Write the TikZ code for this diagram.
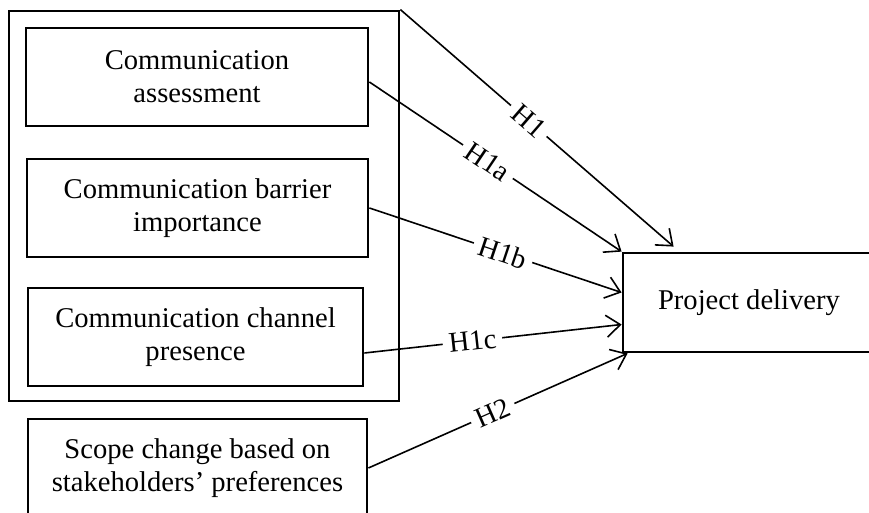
\documentclass[tikz,border=0pt]{standalone}
\usepackage{fontspec}
\setmainfont{Liberation Serif}
\usetikzlibrary{calc,arrows.meta}
\tikzset{
    varbox/.style={draw, line width=1.4pt, align=center, inner sep=0pt},
    hyp/.style={line width=0.8pt, -{Straight Barb[length=7pt,width=11pt,line width=0.8pt]}},
    hyplabel/.style={sloped, fill=white, inner xsep=3pt, inner ysep=1pt, pos=#1}
}

\begin{document}
\begin{tikzpicture}[x=0.5pt, y=-0.5pt, font=\fontsize{14.3}{16.5}\selectfont]
    \clip (0,0) rectangle (869,513);
    % communication block and its three parts
    \node[varbox, minimum width=195pt, minimum height=195pt]  (group)   at (204,206)   {};
    \node[varbox, minimum width=171pt, minimum height=49pt]   (assess)  at (197,77)    {Communication\\assessment};
    \node[varbox, minimum width=170.5pt, minimum height=49pt] (barrier) at (197.5,208) {Communication barrier\\importance};
    \node[varbox, minimum width=167.5pt, minimum height=49pt] (channel) at (195.5,337) {Communication channel\\presence};
    \node[varbox, minimum width=169.5pt, minimum height=49pt] (scope)   at (197.5,468) {Scope change based on\\stakeholders’ preferences};
    \node[varbox, minimum width=126pt, minimum height=49.5pt] (delivery) at (749,302.5) {Project delivery};
    % hypotheses
    \draw[hyp] (group.north east) -- ([xshift=26pt,yshift=2.5pt]delivery.north west) node[hyplabel=0.47] {H1};
    \draw[hyp] ([yshift=-2.5pt]assess.east) -- (delivery.north west) node[hyplabel=0.47] {H1a};
    \draw[hyp] (barrier.east) -- ([yshift=5pt]delivery.west) node[hyplabel=0.53] {H1b};
    \draw[hyp] ([yshift=-8pt]channel.east) -- ([yshift=-11pt]delivery.west) node[hyplabel=0.42] {H1c};
    \draw[hyp] (scope.east) -- ([xshift=3pt]delivery.south west) node[hyplabel=0.48] {H2};
\end{tikzpicture}
\end{document}
